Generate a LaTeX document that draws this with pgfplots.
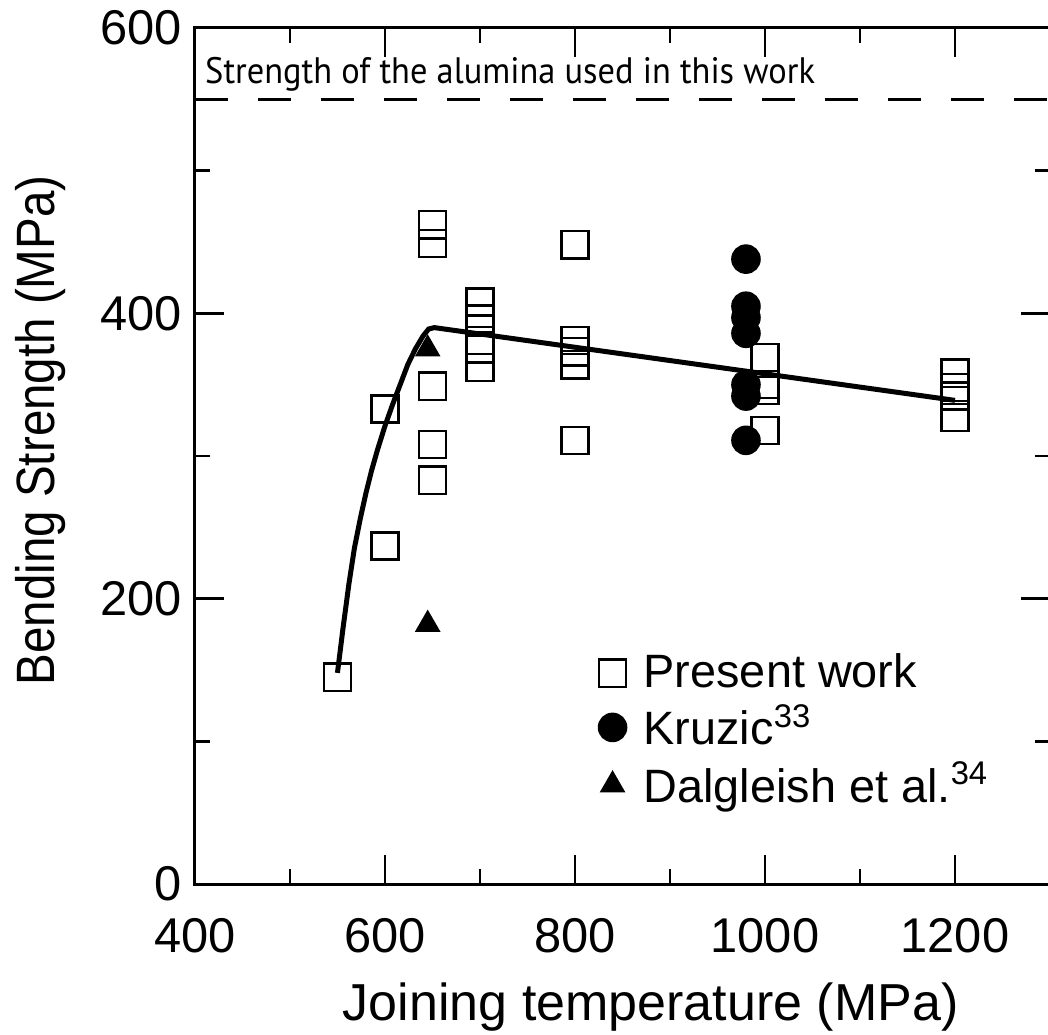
\documentclass[border=0pt]{standalone}
\usepackage{pgfplots}
\pgfplotsset{compat=1.18}
\usepackage{fontspec}
\setmainfont{Liberation Sans}
\newfontfamily\condfont[FakeStretch=0.88]{Liberation Sans}
\newfontfamily\notefont[FakeStretch=0.935]{PT Sans}
\begin{document}
\begin{tikzpicture}
\begin{axis}[
  scale only axis, width=213.75pt, height=214pt,
  xmin=400, xmax=1300, ymin=0, ymax=600,
  xtick={400,600,800,1000,1200}, minor xtick={500,700,900,1100},
  ytick={0,200,400,600}, minor ytick={100,300,500},
  tick align=inside, major tick length=7.25pt, minor tick length=3.75pt,
  axis line style={line width=0.75pt},
  every tick/.style={black, line width=0.6pt},
  /pgf/number format/assume math mode=true,
  /pgf/number format/1000 sep={},
  tick label style={font=\fontsize{12.2}{14}\selectfont, inner sep=0pt},
  xticklabel shift=8.5pt, yticklabel shift=3pt,
  xlabel={Joining temperature (MPa)},
  ylabel={Bending Strength (MPa)},
  xlabel style={font=\fontsize{13}{15}\selectfont, at={(axis description cs:0.533,-0.159)}, anchor=base, inner sep=0pt},
  ylabel style={font=\condfont\fontsize{13.5}{15}\selectfont, at={(axis description cs:-0.164,0.53)}, anchor=base, inner sep=0pt},
  legend style={draw=none, fill=none, at={(axis cs:824,168)}, anchor=north west,
    font=\fontsize{11.7}{14}\selectfont, row sep=-1.2pt, inner sep=0pt,
    /tikz/every odd column/.append style={column sep=2.3pt}},
  legend cell align=left,
  legend image code/.code={\draw[mark repeat=1,#1] plot coordinates {(3.4pt,0pt)};},
  clip=false,
]
\coordinate (bbsw) at (rel axis cs:-0.228,-0.1752);
\coordinate (bbne) at (rel axis cs:0.9977,1.0327);

% Present work
\addplot[only marks, mark=square, mark size=3.4pt, mark options={line width=0.6pt, draw=black, fill=none}] coordinates {
(550,145) (600,237) (600,333)
(650,462) (650,449) (650,349) (650,308) (650,283)
(700,408) (700,396) (700,381) (700,375) (700,362)
(800,448) (800,381) (800,373) (800,364) (800,311)
(1000,369) (1000,350) (1000,346) (1000,318)
(1200,358) (1200,348) (1200,342) (1200,327)
};
\addlegendentry{Present work}

% Kruzic
\addplot[only marks, mark=*, mark size=3.5pt, mark options={draw=black, fill=black}] coordinates {
(980,438) (980,405) (980,397) (980,386) (980,350) (980,342) (980,311)
};
\addlegendentry{Kruzic\textsuperscript{33}}

% Dalgleish
\addplot[only marks, mark=triangle*, mark size=3.3pt, mark options={draw=black, fill=black}] coordinates {
(645,375) (645,182)
};
\addlegendentry{Dalgleish et al.\textsuperscript{34}}

% fitted curve
\addplot[black, line width=1.25pt, forget plot] coordinates {
(550,148) (556,180) (562,210) (568,236) (574,256) (580,274) (586,290) (592,304)
(600,321) (608,336) (616,350) (624,364) (632,375) (640,384) (646,389) (652,390)
(1200,339)
};

% alumina strength
\addplot[black, line width=0.75pt, dash pattern=on 8.25pt off 7.5pt, forget plot] coordinates {(400,550) (1300,550)};
\node[anchor=base west, inner sep=0pt, font=\notefont\fontsize{9.2}{11}\selectfont] at (axis cs:410,561) {Strength of the alumina used in this work};
\end{axis}
\pgfresetboundingbox
\useasboundingbox (bbsw) rectangle (bbne);
\end{tikzpicture}
\end{document}
